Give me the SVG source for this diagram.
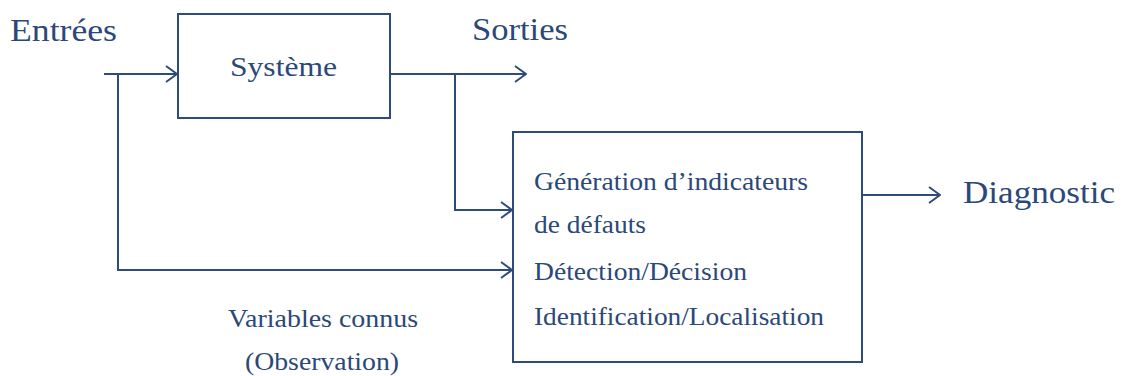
<svg xmlns="http://www.w3.org/2000/svg" width="1123" height="376" viewBox="0 0 1123 376">
<style>
.ln{fill:none;stroke:#2f4b7c;stroke-width:2}
.bx{fill:#fff;stroke:#2f4b7c;stroke-width:2}
text{font-family:"Liberation Serif",serif;fill:#2b4878}
.big{font-size:32px}
.mid{font-size:27px}
.sm{font-size:25px}
</style>
<defs>
<marker id="arr" markerWidth="14" markerHeight="18" refX="13" refY="9" orient="auto" markerUnits="userSpaceOnUse">
<path d="M2,1 L13,9 L2,17" fill="none" stroke="#2f4b7c" stroke-width="2"/>
</marker>
</defs>
<rect width="1123" height="376" fill="#fff"/>
<g id="connectors">
<path class="ln" d="M104,74 H177" marker-end="url(#arr)"/>
<path class="ln" d="M118,74 V270 H512" marker-end="url(#arr)"/>
<path class="ln" d="M390,74 H526" marker-end="url(#arr)"/>
<path class="ln" d="M455,74 V210 H512" marker-end="url(#arr)"/>
<path class="ln" d="M862,195 H940" marker-end="url(#arr)"/>
</g>
<g id="systeme">
<rect class="bx" x="178" y="14" width="212" height="104"/>
<text class="mid" x="230" y="76" textLength="107" lengthAdjust="spacingAndGlyphs">Système</text>
</g>
<g id="diagnostic-box">
<rect class="bx" x="513" y="132" width="349" height="230"/>
<text class="sm" x="534" y="190" textLength="274" lengthAdjust="spacingAndGlyphs">Génération d’indicateurs</text>
<text class="sm" x="534" y="233" textLength="112" lengthAdjust="spacingAndGlyphs">de défauts</text>
<text class="sm" x="534" y="280" textLength="213" lengthAdjust="spacingAndGlyphs">Détection/Décision</text>
<text class="sm" x="534" y="325" textLength="290" lengthAdjust="spacingAndGlyphs">Identification/Localisation</text>
</g>
<g id="labels">
<text class="big" x="10" y="41" textLength="107" lengthAdjust="spacingAndGlyphs">Entrées</text>
<text class="big" x="472" y="40" textLength="96" lengthAdjust="spacingAndGlyphs">Sorties</text>
<text class="big" x="963" y="203" textLength="152" lengthAdjust="spacingAndGlyphs">Diagnostic</text>
<text class="sm" x="228" y="327" textLength="190" lengthAdjust="spacingAndGlyphs">Variables connus</text>
<text class="sm" x="245" y="370" textLength="154" lengthAdjust="spacingAndGlyphs">(Observation)</text>
</g>
</svg>
